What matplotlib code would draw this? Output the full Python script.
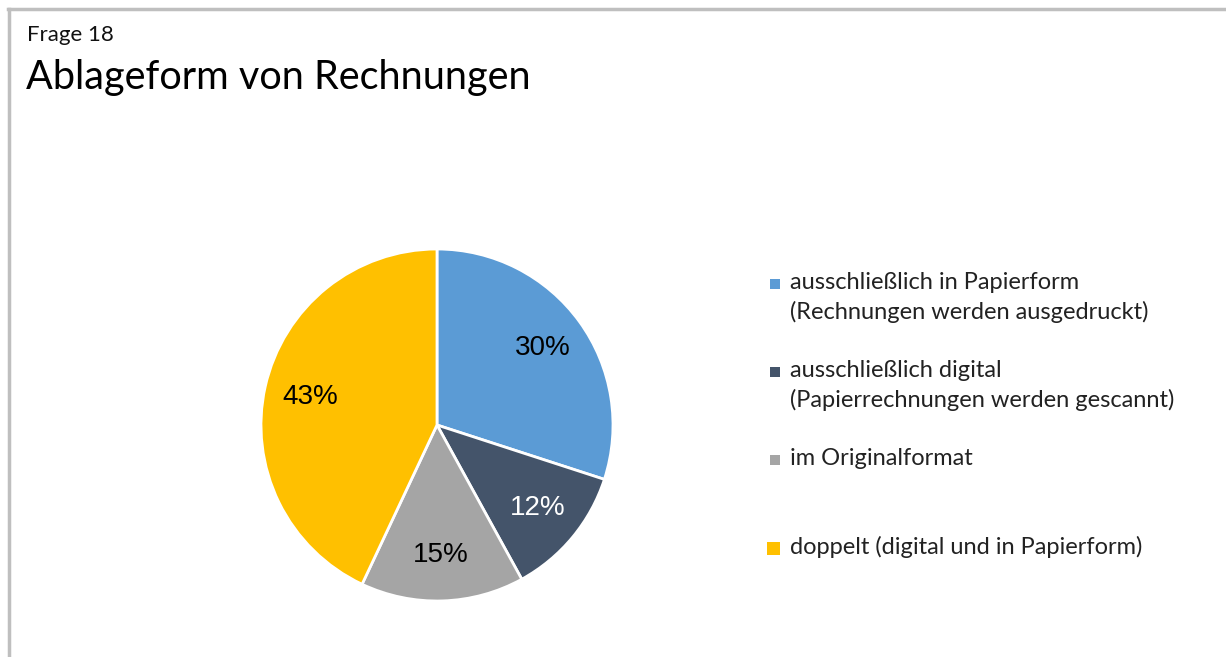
import matplotlib.pyplot as plt
from matplotlib.lines import Line2D
from matplotlib.patches import Rectangle

# data
labels = [
    "ausschließlich in Papierform\n(Rechnungen werden ausgedruckt)",
    "ausschließlich digital\n(Papierrechnungen werden gescannt)",
    "im Originalformat",
    "doppelt (digital und in Papierform)",
]
values = [30, 12, 15, 43]
colors = ["#5B9BD5", "#44546A", "#A5A5A5", "#FFC000"]
label_colors = ["black", "white", "black", "black"]

W, H = 1226, 657
fig = plt.figure(figsize=(W / 100, H / 100), dpi=100)
fig.patch.set_facecolor("white")

# grey frame (top and left)
fig.add_artist(Line2D([8 / W, 1], [1 - 9 / H, 1 - 9 / H], color="#BFBFBF", lw=2.5))
fig.add_artist(Line2D([9 / W, 9 / W], [0, 1 - 9 / H], color="#BFBFBF", lw=2.5))

# titles
fig.text(27 / W, 1 - 35 / H, "Frage 18", fontsize=16, family="Lato", va="center", color="#111111")
fig.text(26 / W, 1 - 77 / H, "Ablageform von Rechnungen", fontsize=28.5, family="Lato",
         va="center", color="black")

# pie
cx, cy, r = 437, H - 425, 176
size = 2.5 * r
ax = fig.add_axes([(cx - size / 2) / W, (cy - size / 2) / H, size / W, size / H])
wedges, texts, autotexts = ax.pie(values, colors=colors, startangle=90, counterclock=False,
                                  autopct="%d%%", pctdistance=0.74,
                                  wedgeprops=dict(edgecolor="white", linewidth=2))
for t, c in zip(autotexts, label_colors):
    t.set_color(c)
    t.set_fontsize(20)
    t.set_family("Liberation Sans")
ax.set_aspect("equal")

# legend, drawn by hand so markers sit on the first line
leg_x, leg_y0, leg_dy = 790, 282, 88
for i, (lab, col) in enumerate(zip(labels, colors)):
    y = leg_y0 + i * leg_dy
    sq = 10 if i < 3 else 13
    fig.add_artist(Rectangle(((780 - sq) / W, 1 - (y + sq / 2 + 2) / H), sq / W, sq / H,
                             facecolor=col, edgecolor="none", transform=fig.transFigure))
    fig.text(leg_x / W, 1 - (y - 10) / H, lab, fontsize=17, family="Lato", va="top",
             color="#222222", linespacing=1.45)

fig.savefig("out.png", dpi=100)
